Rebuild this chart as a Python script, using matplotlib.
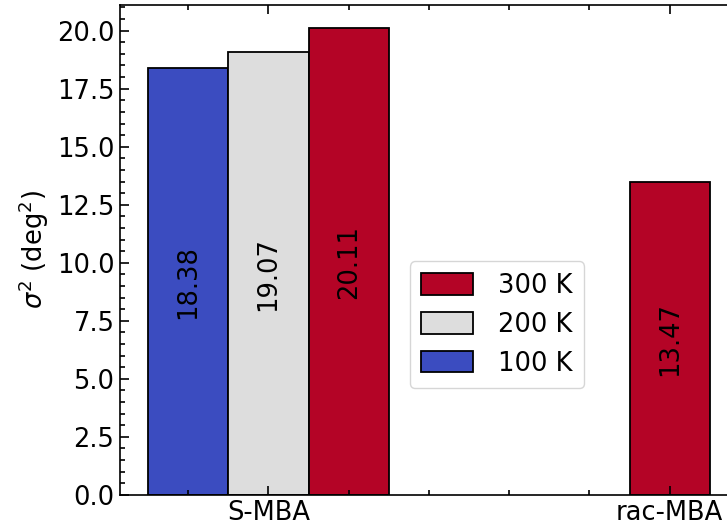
import matplotlib.pyplot as plt
from matplotlib.ticker import AutoMinorLocator

# sigma^2 per sample and temperature
samples = ["S-MBA", "rac-MBA"]
temps = ["100 K", "200 K", "300 K"]
s_mba = [18.38, 19.07, 20.11]
rac_mba = [13.47]
colors = ["#3b4cc0", "#dddddd", "#b40426"]

width = 0.2
fs = 18.5

fig = plt.figure(figsize=(7.27, 5.31), dpi=100)
ax = fig.add_axes([0.165, 0.068, 0.850, 0.923])

bars = []
for i, (t, v) in enumerate(zip(temps, s_mba)):
    x = (i - 1) * width
    b = ax.bar(x, v, width, color=colors[i], edgecolor="black", linewidth=1.3, label=t)
    bars.append(b)
    ax.text(x, v / 2, f"{v:.2f}", rotation=90, ha="center", va="center", fontsize=fs)

for v in rac_mba:
    ax.bar(1, v, width, color=colors[2], edgecolor="black", linewidth=1.3)
    ax.text(1, v / 2, f"{v:.2f}", rotation=90, ha="center", va="center", fontsize=fs)

ax.set_xticks([0, 1])
ax.set_xticklabels(samples, fontsize=fs)
ax.set_ylabel(r"$\sigma^2$ (deg$^2$)", fontsize=fs)
ax.xaxis.set_minor_locator(AutoMinorLocator(5))
ax.yaxis.set_minor_locator(AutoMinorLocator(5))
ax.tick_params(which="both", direction="in", top=True, right=True, labelsize=fs, width=1.2)
ax.tick_params(which="major", length=6.5, pad=4)
ax.tick_params(which="minor", length=3.5)
for s in ax.spines.values():
    s.set_linewidth(1.2)

handles = bars[::-1]
ax.legend(handles, temps[::-1], loc="center", bbox_to_anchor=(0.61, 0.347),
          fontsize=fs, handlelength=2.0, handleheight=0.9, labelspacing=0.5,
          handletextpad=1.0, borderpad=0.45)

fig.savefig("out.png", dpi=100)
